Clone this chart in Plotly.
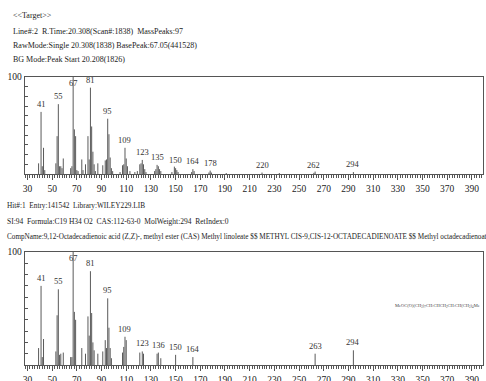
import plotly.graph_objects as go

W, H = 486, 381

# ---------------- data ----------------
target_mz = [39, 41, 42, 43, 44, 53, 54, 55, 56, 57, 58, 59, 65, 66, 67, 68, 69, 70, 71,
             74, 75, 77, 79, 80, 81, 82, 83, 84, 85, 87, 91, 93, 94, 95, 96, 97, 98, 99,
             105, 107, 108, 109, 110, 111, 113, 117, 119, 121, 122, 123, 124, 125, 126,
             133, 134, 135, 136, 137, 138, 147, 149, 150, 151, 152, 163, 164, 165, 177,
             178, 179, 191, 220, 234, 262, 263, 294]
target_int = [11, 64, 8, 27, 4, 11, 39, 72, 8, 8, 6, 16, 6, 8, 100, 46, 39, 4, 3,
              15, 4, 10, 39, 15, 89, 49, 23, 10, 3, 11, 9, 14, 15, 57, 41, 17, 6, 3,
              2, 9, 10, 27, 16, 8, 3, 2, 3, 10, 11, 14.5, 10, 5, 2,
              3, 5, 9.4, 8, 5, 3, 2, 7.6, 6, 4, 2, 2, 5, 3, 1.5,
              3.5, 1.5, 1, 1.5, 1, 1.2, 2.5, 2]
target_labels = [41, 55, 67, 81, 95, 109, 123, 135, 150, 164, 178, 220, 262, 294]

lib_mz = [39, 41, 42, 43, 53, 54, 55, 56, 57, 59, 65, 66, 67, 68, 69, 74, 77, 79, 80,
          81, 82, 83, 84, 87, 91, 93, 94, 95, 96, 97, 98, 107, 108, 109, 110, 121,
          123, 124, 135, 136, 138, 150, 164, 263, 294]
lib_int = [15, 70, 7, 23, 12, 44, 67, 9, 10, 11, 7, 7, 100, 47, 40, 15, 10, 43, 26,
           83, 46, 20, 13, 10, 12, 22, 15, 59, 33, 15, 6, 11, 16, 25, 22, 11,
           12, 10, 10, 11, 6, 9, 7, 10, 13]
lib_labels = [41, 55, 67, 81, 95, 109, 123, 136, 150, 164, 263, 294]

header_top = ["&lt;&lt;Target&gt;&gt;",
              "Line#:2  R.Time:20.308(Scan#:1838)  MassPeaks:97",
              "RawMode:Single 20.308(1838) BasePeak:67.05(441528)",
              "BG Mode:Peak Start 20.208(1826)"]
header_hit = ["Hit#:1  Entry:141542  Library:WILEY229.LIB",
              "SI:94  Formula:C19 H34 O2  CAS:112-63-0  MolWeight:294  RetIndex:0",
              "CompName:9,12-Octadecadienoic acid (Z,Z)-, methyl ester (CAS) Methyl linoleate "
              "$$ METHYL CIS-9,CIS-12-OCTADECADIENOATE $$ Methyl octadecadienoate"]
structure = ("MeOC(O)(CH<sub>2</sub>)<sub>7</sub>CH:CHCH<sub>2</sub>CH:CH(CH<sub>2</sub>)"
             "<sub>4</sub>Me")

FONT = "Liberation Serif, Times New Roman, serif"
BAR_COLOR = "#5a5a5a"
AX_COLOR = "#555555"


def sticks(mz, inten):
    xs, ys = [], []
    for m, v in zip(mz, inten):
        xs += [m, m, None]
        ys += [0, v, None]
    return xs, ys


fig = go.Figure()
tx, ty = sticks(target_mz, target_int)
lx, ly = sticks(lib_mz, lib_int)
fig.add_trace(go.Scatter(x=tx, y=ty, mode="lines", line=dict(color=BAR_COLOR, width=1),
                         xaxis="x", yaxis="y", hoverinfo="skip", showlegend=False))
fig.add_trace(go.Scatter(x=lx, y=ly, mode="lines", line=dict(color=BAR_COLOR, width=1),
                         xaxis="x2", yaxis="y2", hoverinfo="skip", showlegend=False))

x_dom = [25 / W, 483 / W]
top_dom = [(H - 174) / H, (H - 77) / H]
bot_dom = [(H - 365) / H, (H - 252) / H]

xcommon = dict(range=[28, 399], tick0=30, dtick=20, ticks="outside",
               ticklen=5, tickcolor=AX_COLOR, showgrid=False, zeroline=False,
               showline=True, linecolor=AX_COLOR, linewidth=1.3, mirror=True,
               tickfont=dict(family=FONT, size=9.5, color="#222"), automargin=False,
               minor=dict(dtick=2, tick0=30, ticks="outside", ticklen=3,
                          tickcolor=AX_COLOR, showgrid=False),
               fixedrange=True)
ycommon = dict(range=[0, 100], tickvals=[100], ticktext=["100"], ticks="inside",
               ticklen=3, tickcolor=AX_COLOR, showgrid=False, zeroline=False,
               showline=True, linecolor=AX_COLOR, linewidth=1.3, mirror=True,
               tickfont=dict(family=FONT, size=9.5, color="#222"), automargin=False,
               minor=dict(dtick=10, tick0=0, ticks="inside", ticklen=3,
                          tickcolor=AX_COLOR, showgrid=False),
               fixedrange=True)

fig.update_layout(
    width=W, height=H, margin=dict(l=0, r=0, t=0, b=0),
    paper_bgcolor="white", plot_bgcolor="white",
    xaxis=dict(domain=x_dom, anchor="y", **xcommon),
    yaxis=dict(domain=top_dom, anchor="x", **ycommon),
    xaxis2=dict(domain=x_dom, anchor="y2", **xcommon),
    yaxis2=dict(domain=bot_dom, anchor="x2", **ycommon),
)

ann = []


def peak_label(m, v, xr, yr):
    if v >= 95:
        return dict(x=m, y=100, xref=xr, yref=yr, text=str(m), showarrow=False,
                    yanchor="top", yshift=1, font=dict(family=FONT, size=8.5, color="#333"))
    return dict(x=m, y=v, xref=xr, yref=yr, text=str(m), showarrow=False,
                yanchor="bottom", yshift=1, font=dict(family=FONT, size=8.5, color="#333"))


tmap = dict(zip(target_mz, target_int))
for m in target_labels:
    ann.append(peak_label(m, tmap[m], "x", "y"))
lmap = dict(zip(lib_mz, lib_int))
for m in lib_labels:
    ann.append(peak_label(m, lmap[m], "x2", "y2"))

for i, t in enumerate(header_top):
    py = [15, 31, 45, 60][i]
    ann.append(dict(x=11 / W, y=1 - py / H, xref="paper", yref="paper", text=t,
                    showarrow=False, xanchor="left", yanchor="middle",
                    font=dict(family=FONT, size=8, color="#222")))
hit_sizes = [7.3, 7.5, 7.2]
for i, t in enumerate(header_hit):
    py = [205, 221, 237][i]
    ann.append(dict(x=5 / W, y=1 - py / H, xref="paper", yref="paper", text=t,
                    showarrow=False, xanchor="left", yanchor="middle",
                    font=dict(family=FONT, size=hit_sizes[i], color="#222")))

ann.append(dict(x=362, y=52, xref="x2", yref="y2", text=structure, showarrow=False,
                xanchor="center", yanchor="middle",
                font=dict(family=FONT, size=4.5, color="#444")))

fig.update_layout(annotations=ann)
fig.write_html("out.html", config={"displayModeBar": False, "staticPlot": True},
               post_script="document.body.style.margin='0';document.body.style.overflow='hidden';")
